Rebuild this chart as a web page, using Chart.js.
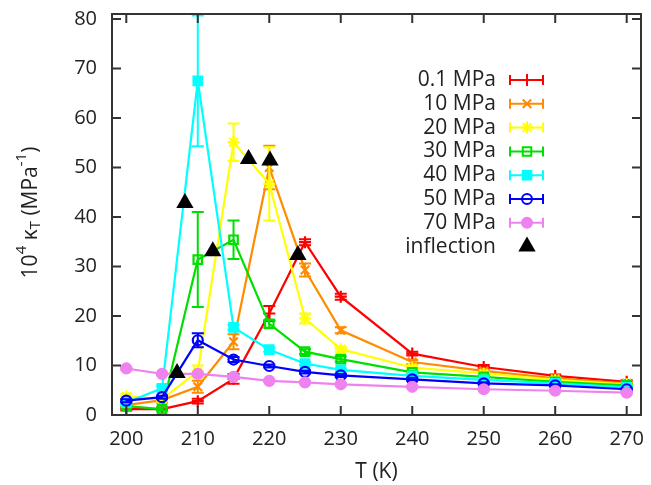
<!DOCTYPE html>
<html>
<head>
<meta charset="utf-8">
<script src="https://cdn.jsdelivr.net/npm/chart.js@4.4.1/dist/chart.umd.min.js"></script>
<style>
  body { margin: 0; background: #fff; }
  canvas { display: block; }
</style>
</head>
<body>
<canvas id="chart" width="651" height="485"></canvas>
<script>
// temperatures (K)
const temps = [200, 205, 210, 215, 220, 225, 230, 240, 250, 260, 270];

// 10^4 kappa_T for each pressure, with error bars
const k01 = [1.2, 1.2, 2.8, 7.3, 20.5, 34.9, 23.9, 12.4, 9.7, 7.9, 6.7];
const e01 = [0.3, 0.3, 0.5, 1.0, 1.5, 0.6, 0.6, 0.4, 0.4, 0.3, 0.3];
const k10 = [2.0, 3.0, 5.7, 14.8, 50.0, 29.3, 17.1, 10.7, 8.9, 7.4, 6.4];
const e10 = [0.5, 0.5, 1.2, 1.5, 4.4, 1.3, 0.6, 0.4, 0.3, 0.3, 0.3];
const k20 = [3.8, 3.2, 8.8, 55.1, 46.7, 19.5, 13.3, 9.6, 8.4, 7.1, 6.2];
const e20 = [0.5, 0.4, 1.2, 3.8, 7.4, 1.0, 0.5, 0.4, 0.3, 0.3, 0.3];
const k30 = [1.8, 1.2, 31.4, 35.4, 18.4, 12.8, 11.3, 8.6, 7.7, 6.7, 6.0];
const e30 = [0.3, 0.3, 9.6, 3.9, 0.8, 0.5, 0.5, 0.3, 0.3, 0.3, 0.3];
const k40 = [2.5, 5.4, 67.5, 17.7, 13.2, 10.4, 9.1, 7.9, 7.1, 6.4, 5.6];
const e40 = [0.3, 0.5, 13.2, 0.5, 0.4, 0.3, 0.3, 0.3, 0.3, 0.3, 0.3];
const k50 = [2.9, 3.6, 15.1, 11.2, 9.9, 8.7, 8.0, 7.2, 6.4, 6.0, 5.2];
const e50 = [0.3, 0.3, 1.4, 0.5, 0.3, 0.3, 0.3, 0.3, 0.2, 0.2, 0.2];
const k70 = [9.4, 8.3, 8.3, 7.7, 6.9, 6.6, 6.2, 5.7, 5.2, 4.9, 4.5];
const e70 = [0.2, 0.2, 0.2, 0.2, 0.2, 0.2, 0.2, 0.2, 0.2, 0.2, 0.2];

// inflection points
const inflT = [207.1, 208.2, 212.1, 217.1, 220.1, 224.0];
const inflK = [8.5, 42.8, 33.1, 51.7, 51.4, 32.3];

const xTicks = [200, 210, 220, 230, 240, 250, 260, 270];
const yTicks = [0, 10, 20, 30, 40, 50, 60, 70, 80];

const FONT = '"Open Sans", "DejaVu Sans", sans-serif';
const INK = '#222';

const series = [
  { label: '0.1 MPa', vals: k01, err: e01, color: '#ff0000', style: 'cross',    r: 6,   fill: false },
  { label: '10 MPa',  vals: k10, err: e10, color: '#ff8c00', style: 'crossRot', r: 6,   fill: false },
  { label: '20 MPa',  vals: k20, err: e20, color: '#ffff00', style: 'star',     r: 6,   fill: false },
  { label: '30 MPa',  vals: k30, err: e30, color: '#00e000', style: 'rect',     r: 6,   fill: false },
  { label: '40 MPa',  vals: k40, err: e40, color: '#00ffff', style: 'rect',     r: 6,   fill: true },
  { label: '50 MPa',  vals: k50, err: e50, color: '#0000ff', style: 'circle',   r: 5,   fill: false },
  { label: '70 MPa',  vals: k70, err: e70, color: '#ee82ee', style: 'circle',   r: 5,   fill: true },
];

const datasets = series.map((s, i) => ({
  label: s.label,
  data: temps.map((t, j) => ({ x: t, y: s.vals[j] })),
  err: s.err,
  borderColor: s.color,
  borderWidth: 2.2,
  pointStyle: s.style,
  pointRadius: s.r,
  pointBorderWidth: 2.2,
  pointBorderColor: s.color,
  pointBackgroundColor: s.fill ? s.color : 'rgba(0,0,0,0)',
  order: 20 - i,
}));

datasets.push({
  label: 'inflection',
  data: inflT.map((t, j) => ({ x: t, y: inflK[j] })),
  showLine: false,
  pointStyle: 'triangle',
  pointRadius: 10,
  pointBorderWidth: 0,
  pointBackgroundColor: '#000',
  borderColor: '#000',
  order: 1,
});

// vertical error bars with caps
const errorBars = {
  id: 'errorBars',
  afterDatasetDraw(chart, args) {
    const ds = chart.data.datasets[args.index];
    if (!ds.err) return;
    const { ctx, chartArea: a, scales: { x, y } } = chart;
    ctx.save();
    ctx.beginPath();
    ctx.rect(a.left, a.top, a.right - a.left, a.bottom - a.top);
    ctx.clip();
    ctx.strokeStyle = ds.borderColor;
    ctx.lineWidth = 2;
    ds.data.forEach((p, i) => {
      const px = x.getPixelForValue(p.x);
      const top = y.getPixelForValue(p.y + ds.err[i]);
      const bot = y.getPixelForValue(p.y - ds.err[i]);
      ctx.beginPath();
      ctx.moveTo(px, top); ctx.lineTo(px, bot);
      ctx.moveTo(px - 6, top); ctx.lineTo(px + 6, top);
      ctx.moveTo(px - 6, bot); ctx.lineTo(px + 6, bot);
      ctx.stroke();
    });
    ctx.restore();
  }
};

// gnuplot style box with inward, mirrored ticks
const frame = {
  id: 'frame',
  afterDatasetsDraw(chart) {
    const { ctx, chartArea: a, scales: { x, y } } = chart;
    const tl = 9;
    ctx.save();
    ctx.strokeStyle = '#333';
    ctx.lineWidth = 2;
    ctx.beginPath();
    xTicks.forEach(v => {
      const px = x.getPixelForValue(v);
      ctx.moveTo(px, a.bottom); ctx.lineTo(px, a.bottom - tl);
      ctx.moveTo(px, a.top); ctx.lineTo(px, a.top + tl);
    });
    yTicks.forEach(v => {
      const py = y.getPixelForValue(v);
      ctx.moveTo(a.left, py); ctx.lineTo(a.left + tl, py);
      ctx.moveTo(a.right, py); ctx.lineTo(a.right - tl, py);
    });
    ctx.stroke();
    ctx.strokeRect(a.left, a.top, a.right - a.left, a.bottom - a.top);
    ctx.restore();
  }
};

// y title with super/subscripts, and the key
const annotate = {
  id: 'annotate',
  afterDraw(chart) {
    const { ctx, chartArea: a } = chart;
    ctx.save();

    // y axis title
    const big = '21px ' + FONT, small = '15px ' + FONT;
    const parts = [
      ['10', big, 0], ['4', small, -9], [' \u03BA', big, 0], ['T', small, 5],
      [' (MPa', big, 0], ['-1', small, -9], [')', big, 0],
    ];
    let total = 0;
    parts.forEach(p => { ctx.font = p[1]; total += ctx.measureText(p[0]).width; });
    ctx.translate(31, (a.top + a.bottom) / 2 - 2);
    ctx.rotate(-Math.PI / 2);
    ctx.fillStyle = INK;
    ctx.textBaseline = 'middle';
    ctx.textAlign = 'left';
    let cx = -total / 2;
    parts.forEach(p => {
      ctx.font = p[1];
      ctx.fillText(p[0], cx, p[2]);
      cx += ctx.measureText(p[0]).width;
    });
    ctx.setTransform(1, 0, 0, 1, 0, 0);

    // key
    const textRight = 496, x0 = 510, x1 = 543, xm = 527;
    ctx.font = '21px ' + FONT;
    ctx.textAlign = 'right';
    ctx.textBaseline = 'middle';
    chart.data.datasets.forEach((ds, i) => {
      const yy = 80 + 23.8 * i;
      ctx.fillStyle = INK;
      ctx.fillText(ds.label, textRight, yy);
      const c = ds.pointBorderColor || ds.borderColor;
      ctx.strokeStyle = c;
      ctx.fillStyle = ds.pointBackgroundColor;
      if (ds.err) {
        ctx.lineWidth = 2;
        ctx.beginPath();
        ctx.moveTo(x0, yy); ctx.lineTo(x1, yy);
        ctx.moveTo(x0, yy - 5); ctx.lineTo(x0, yy + 5);
        ctx.moveTo(x1, yy - 5); ctx.lineTo(x1, yy + 5);
        ctx.stroke();
      }
      Chart.helpers.drawPoint(ctx, {
        pointStyle: ds.pointStyle, radius: ds.pointRadius, rotation: 0,
        borderWidth: ds.pointBorderWidth,
      }, xm, yy);
    });
    ctx.restore();
  }
};

new Chart(document.getElementById('chart'), {
  type: 'line',
  data: { datasets },
  options: {
    responsive: false,
    animation: false,
    devicePixelRatio: 1,
    layout: { padding: { left: 0, right: 8, top: 14, bottom: 0 } },
    plugins: { legend: { display: false }, tooltip: { enabled: false } },
    elements: { line: { tension: 0 } },
    scales: {
      x: {
        type: 'linear',
        min: 198, max: 272,
        afterBuildTicks: s => { s.ticks = xTicks.map(v => ({ value: v })); },
        afterFit: s => { s.height = 70; s.paddingLeft = 0; s.paddingRight = 0; },
        grid: { display: false, drawTicks: false },
        border: { display: false },
        ticks: { color: INK, font: { family: FONT, size: 20 }, padding: 12, maxRotation: 0 },
        title: { display: true, text: 'T (K)', color: INK, font: { family: FONT, size: 21 }, padding: { top: 4, bottom: 0 } },
      },
      y: {
        type: 'linear',
        min: 0, max: 81,
        afterBuildTicks: s => { s.ticks = yTicks.map(v => ({ value: v })); },
        afterFit: s => { s.width = 112; s.paddingTop = 0; s.paddingBottom = 0; },
        grid: { display: false, drawTicks: false },
        border: { display: false },
        ticks: { color: INK, font: { family: FONT, size: 20 }, padding: 15 },
      },
    },
  },
  plugins: [errorBars, frame, annotate],
});
</script>
</body>
</html>
